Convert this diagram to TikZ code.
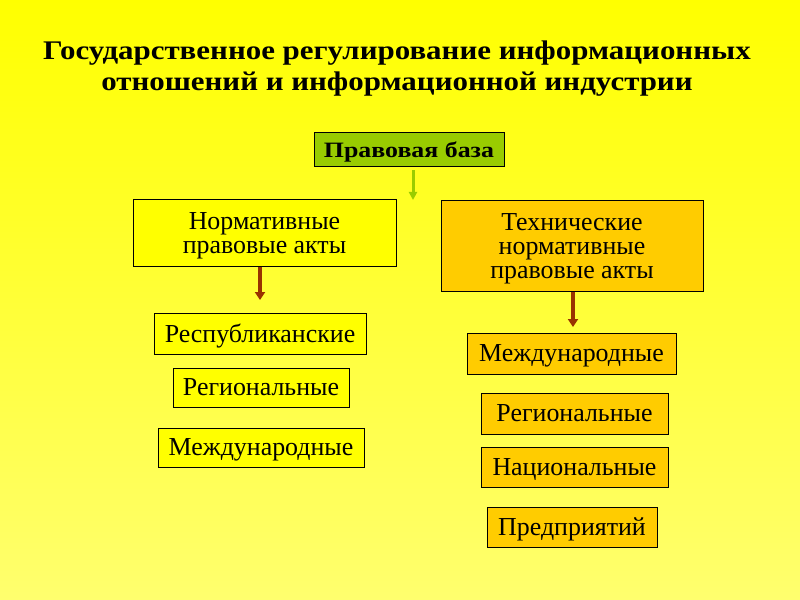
\documentclass[tikz,border=0pt]{standalone}
\usepackage{fontspec}
\usepackage{graphicx}
\setmainfont{Liberation Serif}
\usetikzlibrary{arrows.meta,calc}
\definecolor{bgtop}{RGB}{255,255,0}
\definecolor{bgbot}{RGB}{255,255,110}
\definecolor{olivefill}{RGB}{153,204,0}
\definecolor{goldfill}{RGB}{255,204,0}
\definecolor{yelfill}{RGB}{255,255,0}
\definecolor{brownarr}{RGB}{153,51,0}
\definecolor{greenarr}{RGB}{153,204,0}
\tikzset{
  box/.style={draw=black, line width=1bp, inner sep=0pt, align=center, text depth=0pt,
    font=\fontsize{26}{24}\selectfont, text=black},
  ybox/.style={box, fill=yelfill},
  gbox/.style={box, fill=goldfill},
  brownarrow/.style={draw=brownarr, line width=3.5bp, -{Triangle[width=10bp,length=8bp]}},
  greenarrow/.style={draw=greenarr, line width=3bp, -{Triangle[width=8bp,length=8bp]}},
}
\begin{document}
\begin{tikzpicture}[x=1bp,y=-1bp]
\useasboundingbox (0,0) rectangle (800,600);
\shade[top color=bgtop, bottom color=bgbot] (0,0) rectangle (800,600);
\node[inner sep=0pt, font=\fontsize{27}{31}\selectfont\bfseries] (title) at (397,69)
  {\scalebox{1.15}[1]{\begin{tabular}{@{}c@{}}Государственное регулирование информационных\\отношений и информационной индустрии\end{tabular}}};
\node[box, fill=olivefill, font=\fontsize{22}{24}\selectfont\bfseries,
  minimum width=190bp, minimum height=34bp] (pb) at (409,150) {\scalebox{1.18}[1]{Правовая база}};
\node[ybox, minimum width=263bp, minimum height=66bp] (na) at (264.5,233)
  {Нормативные\\правовые акты};
\node[gbox, minimum width=262bp, minimum height=90bp] (tna) at (572,246)
  {Технические\\нормативные\\правовые акты};
\node[ybox, minimum width=212bp, minimum height=41bp] (l1) at (260,333.5) {Республиканские};
\node[ybox, minimum width=176bp, minimum height=39bp] (l2) at (261,387.5) {Региональные};
\node[ybox, minimum width=206bp, minimum height=39bp] (l3) at (261,447.5) {Международные};
\node[gbox, minimum width=209bp, minimum height=41bp] (r1) at (571.5,353.5) {Международные};
\node[gbox, minimum width=187bp, minimum height=41bp] (r2) at (574.5,413.5) {Региональные};
\node[gbox, minimum width=187bp, minimum height=40bp] (r3) at (574.5,467) {Национальные};
\node[gbox, minimum width=170bp, minimum height=40bp] (r4) at (572,527) {Предприятий};
\coordinate (g0) at ($(pb.south)+(4,3)$);
\coordinate (g1) at (413,200);
\draw[greenarrow] (g0) -- (g1);
\coordinate (b0) at ($(na.south)+(-4.5,0)$);
\coordinate (b1) at (260,300);
\draw[brownarrow] (b0) -- (b1);
\coordinate (c0) at ($(tna.south)+(1,0)$);
\coordinate (c1) at (573,327);
\draw[brownarrow] (c0) -- (c1);
\end{tikzpicture}
\end{document}
